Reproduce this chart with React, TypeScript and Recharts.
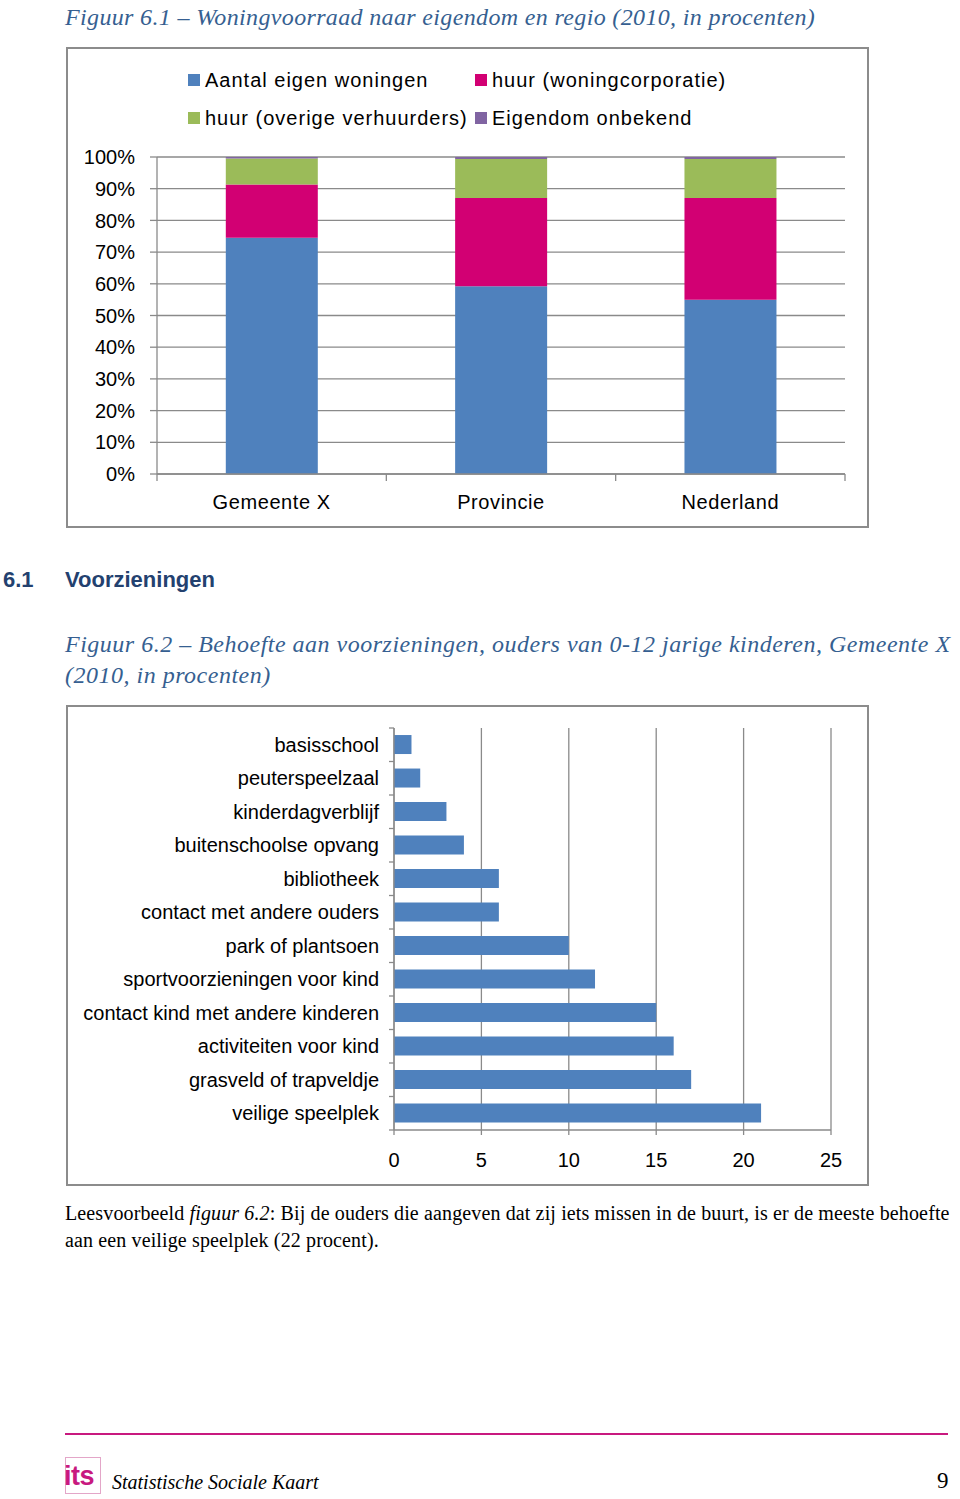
import React from 'react';
import { BarChart, Bar, XAxis, YAxis, CartesianGrid } from 'recharts';

// ---------- Figure 6.1 data ----------
const regions = ['Gemeente X', 'Provincie', 'Nederland'];
const eigenWoningen = [74.5, 59.2, 55.0];
const huurCorporatie = [16.8, 27.9, 32.1];
const huurOverige = [8.2, 12.3, 12.3];
const eigendomOnbekend = [0.5, 0.6, 0.6];
const seriesKeys1 = ['eigen', 'corporatie', 'overige', 'onbekend'];
const seriesNames1 = ['Aantal eigen woningen', 'huur (woningcorporatie)', 'huur (overige verhuurders)', 'Eigendom onbekend'];
const seriesColors1 = ['#4F81BD', '#D20073', '#9BBB59', '#8064A2'];
const percentTicks = [0, 10, 20, 30, 40, 50, 60, 70, 80, 90, 100];

// ---------- Figure 6.2 data ----------
const voorzieningen = [
  'basisschool',
  'peuterspeelzaal',
  'kinderdagverblijf',
  'buitenschoolse opvang',
  'bibliotheek',
  'contact met andere ouders',
  'park of plantsoen',
  'sportvoorzieningen voor kind',
  'contact kind met andere kinderen',
  'activiteiten voor kind',
  'grasveld of trapveldje',
  'veilige speelplek',
];
const behoefte = [1, 1.5, 3, 4, 6, 6, 10, 11.5, 15, 16, 17, 21];
const valueTicks2 = [0, 5, 10, 15, 20, 25];

const data1 = regions.map((r, i) => ({
  name: r,
  eigen: eigenWoningen[i],
  corporatie: huurCorporatie[i],
  overige: huurOverige[i],
  onbekend: eigendomOnbekend[i],
}));
const data2 = voorzieningen.map((n, i) => ({ name: n, value: behoefte[i] }));

const SANS = '"Liberation Sans", Arial, sans-serif';
const SERIF = '"Liberation Serif", "Times New Roman", serif';
const GRID = '#8A8A8A';
const TITLE_BLUE = '#365F91';

// chart 1 geometry
const C1_W = 803;
const C1_H = 481;
const C1_M = { top: 110, right: 24, bottom: 14, left: 0 };
const C1_YW = 91;
const C1_XH = 40;
const C1_PLOT_W = C1_W - C1_M.left - C1_M.right - C1_YW;

// chart 2 geometry
const C2_W = 803;
const C2_H = 481;
const C2_M = { top: 23, right: 38, bottom: 16, left: 0 };
const C2_YW = 328;
const C2_XH = 40;
const C2_PLOT_H = C2_H - C2_M.top - C2_M.bottom - C2_XH;

const RegionTick = (props: any) => {
  const { x, y, payload, index } = props;
  const half = C1_PLOT_W / regions.length / 2;
  return (
    <g>
      <line x1={x - half} y1={y} x2={x - half} y2={y + 7} stroke={GRID} strokeWidth={1.3} />
      {index === regions.length - 1 && (
        <line x1={x + half} y1={y} x2={x + half} y2={y + 7} stroke={GRID} strokeWidth={1.3} />
      )}
      <text x={x} y={y + 35} textAnchor="middle" fontFamily={SANS} fontSize={20} letterSpacing={0.6} fill="#000">
        {payload.value}
      </text>
    </g>
  );
};

const VoorzTick = (props: any) => {
  const { x, y, payload, index } = props;
  const half = C2_PLOT_H / voorzieningen.length / 2;
  return (
    <g>
      <line x1={x - 5} y1={y - half} x2={x} y2={y - half} stroke={GRID} strokeWidth={1.3} />
      {index === voorzieningen.length - 1 && (
        <line x1={x - 5} y1={y + half} x2={x} y2={y + half} stroke={GRID} strokeWidth={1.3} />
      )}
      <text x={x - 15} y={y + 7} textAnchor="end" fontFamily={SANS} fontSize={20} fill="#000">
        {payload.value}
      </text>
    </g>
  );
};

const legendPos = [
  { left: 188, top: 68 },
  { left: 475, top: 68 },
  { left: 188, top: 106 },
  { left: 475, top: 106 },
];

export default function App() {
  return (
    <div style={{ position: 'absolute', left: 0, top: 0, width: 960, height: 1499, background: '#fff', overflow: 'hidden' }}>
      {/* Title 6.1 */}
      <div style={{ position: 'absolute', left: 65, top: 3, fontFamily: SERIF, fontStyle: 'italic', fontSize: 24, lineHeight: '28px', letterSpacing: 0.35, color: TITLE_BLUE, whiteSpace: 'nowrap' }}>
        Figuur 6.1 – Woningvoorraad naar eigendom en regio (2010, in procenten)
      </div>

      {/* Chart 1 box */}
      <div style={{ position: 'absolute', left: 66, top: 47, width: C1_W, height: C1_H, boxSizing: 'border-box', border: '2px solid #8C8C8C' }} />
      <div style={{ position: 'absolute', left: 66, top: 47 }}>
        <BarChart width={C1_W} height={C1_H} data={data1} margin={C1_M} barCategoryGap="30%">
          <CartesianGrid vertical={false} stroke={GRID} strokeWidth={1.3} />
          <XAxis
            dataKey="name"
            height={C1_XH}
            axisLine={{ stroke: GRID, strokeWidth: 1.3 }}
            tickLine={false}
            tickSize={0}
            tickMargin={0}
            interval={0}
            tick={(p: any) => <RegionTick {...p} />}
          />
          <YAxis
            width={C1_YW}
            domain={[0, 100]}
            ticks={percentTicks}
            tickFormatter={(v: number) => `${v}%`}
            axisLine={{ stroke: GRID, strokeWidth: 1.3 }}
            tickLine={{ stroke: GRID, strokeWidth: 1.3 }}
            tickSize={7}
            tickMargin={15}
            tick={{ fontFamily: SANS, fontSize: 20, fill: '#000' }}
            allowDataOverflow
          />
          {seriesKeys1.map((k, i) => (
            <Bar key={k} dataKey={k} name={seriesNames1[i]} stackId="a" fill={seriesColors1[i]} isAnimationActive={false} />
          ))}
        </BarChart>
      </div>
      {/* Legend 1 */}
      {seriesNames1.map((n, i) => (
        <div key={n} style={{ position: 'absolute', left: legendPos[i].left, top: legendPos[i].top, height: 24, display: 'flex', alignItems: 'center', fontFamily: SANS, fontSize: 20, color: '#000', whiteSpace: 'nowrap' }}>
          <span style={{ display: 'inline-block', width: 12, height: 12, background: seriesColors1[i], marginRight: 5 }} />
          <span style={{ letterSpacing: 1.0 }}>{n}</span>
        </div>
      ))}

      {/* Heading */}
      <div style={{ position: 'absolute', left: 3, top: 566, fontFamily: SANS, fontWeight: 'bold', fontSize: 22, lineHeight: '28px', color: '#23416F' }}>6.1</div>
      <div style={{ position: 'absolute', left: 65, top: 566, fontFamily: SANS, fontWeight: 'bold', fontSize: 22, lineHeight: '28px', color: '#23416F' }}>Voorzieningen</div>

      {/* Title 6.2 */}
      <div style={{ position: 'absolute', left: 65, top: 629, fontFamily: SERIF, fontStyle: 'italic', fontSize: 24, lineHeight: '31px', letterSpacing: 0.5, color: TITLE_BLUE, whiteSpace: 'nowrap' }}>
        <div>Figuur 6.2 – Behoefte aan voorzieningen, ouders van 0-12 jarige kinderen, Gemeente X</div>
        <div>(2010, in procenten)</div>
      </div>

      {/* Chart 2 box */}
      <div style={{ position: 'absolute', left: 66, top: 705, width: C2_W, height: C2_H, boxSizing: 'border-box', border: '2px solid #8C8C8C' }} />
      <div style={{ position: 'absolute', left: 66, top: 705 }}>
        <BarChart width={C2_W} height={C2_H} data={data2} layout="vertical" margin={C2_M} barCategoryGap="21%">
          <CartesianGrid horizontal={false} stroke={GRID} strokeWidth={1.3} />
          <XAxis
            type="number"
            domain={[0, 25]}
            ticks={valueTicks2}
            height={C2_XH}
            axisLine={{ stroke: GRID, strokeWidth: 1.3 }}
            tickLine={{ stroke: GRID, strokeWidth: 1.3 }}
            tickSize={5}
            tickMargin={18}
            tick={{ fontFamily: SANS, fontSize: 20, fill: '#000' }}
          />
          <YAxis
            type="category"
            dataKey="name"
            width={C2_YW}
            axisLine={{ stroke: GRID, strokeWidth: 1.3 }}
            tickLine={false}
            tickSize={0}
            tickMargin={0}
            interval={0}
            tick={(p: any) => <VoorzTick {...p} />}
          />
          <Bar dataKey="value" fill="#4F81BD" isAnimationActive={false} />
        </BarChart>
      </div>

      {/* Paragraph */}
      <div style={{ position: 'absolute', left: 65, top: 1200, fontFamily: SERIF, fontSize: 20, lineHeight: '27px', letterSpacing: 0.13, color: '#000', whiteSpace: 'nowrap' }}>
        <div>
          Leesvoorbeeld <i>figuur 6.2</i>: Bij de ouders die aangeven dat zij iets missen in de buurt, is er de meeste behoefte
        </div>
        <div>aan een veilige speelplek (22 procent).</div>
      </div>

      {/* Footer */}
      <div style={{ position: 'absolute', left: 65, top: 1433, width: 883, height: 2, background: '#C8197F' }} />
      <div style={{ position: 'absolute', left: 65, top: 1457, width: 36, height: 37, boxSizing: 'border-box', border: '1px solid #E3A6C8' }} />
      <div style={{ position: 'absolute', left: 64, top: 1460, fontFamily: SANS, fontWeight: 'bold', fontSize: 27, lineHeight: '32px', color: '#C8197F', letterSpacing: -0.5 }}>its</div>
      <div style={{ position: 'absolute', left: 112, top: 1469, fontFamily: SERIF, fontStyle: 'italic', fontSize: 20, lineHeight: '26px', color: '#000', whiteSpace: 'nowrap' }}>
        Statistische Sociale Kaart
      </div>
      <div style={{ position: 'absolute', left: 937, top: 1467, fontFamily: SERIF, fontSize: 23, lineHeight: '28px', color: '#000' }}>9</div>
    </div>
  );
}
